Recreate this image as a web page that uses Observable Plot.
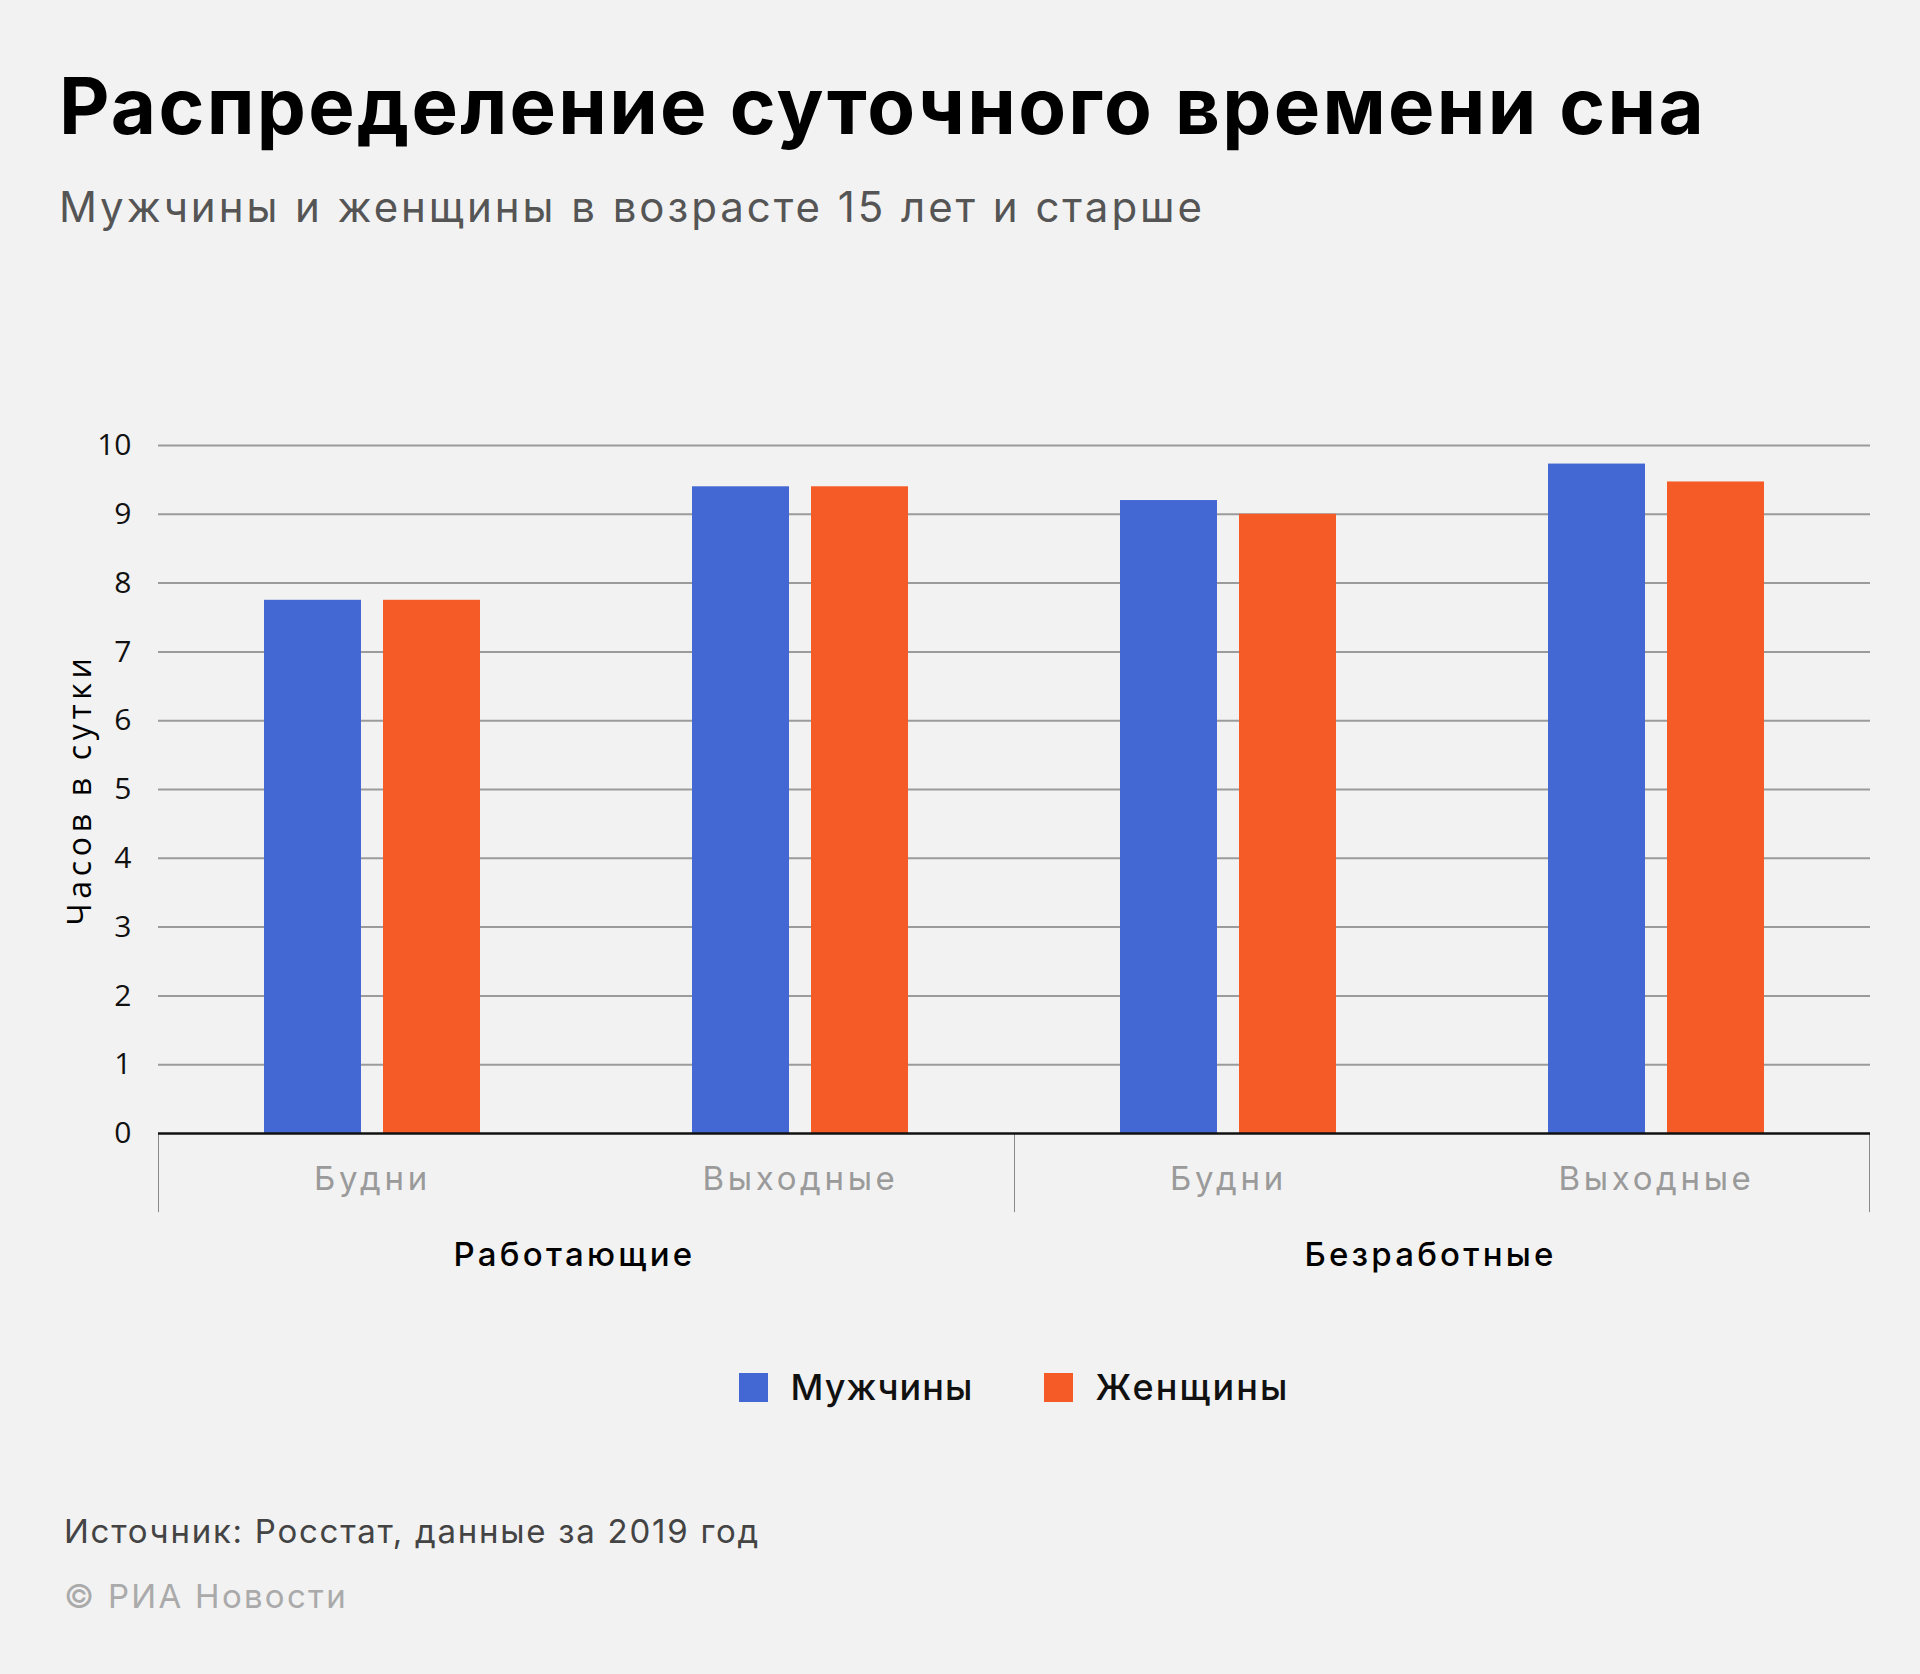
<!DOCTYPE html>
<html><head><meta charset="utf-8">
<script src="https://cdn.jsdelivr.net/npm/d3@7"></script>
<script src="https://cdn.jsdelivr.net/npm/@observablehq/plot@0.6"></script>
<style>
html,body{margin:0;padding:0;background:#f2f2f2;}
body{width:1920px;height:1674px;position:relative;overflow:hidden;font-family:Inter,"Noto Sans",sans-serif;}
.abs{position:absolute;white-space:nowrap;line-height:1;}
#title{left:59px;top:67px;font-size:78px;font-weight:700;color:#000;}
#subtitle{left:59px;top:186px;font-size:42px;font-weight:400;color:#555;}
#chart{position:absolute;left:0;top:400px;}
#legend{position:absolute;left:108px;width:1812px;top:1369px;height:36px;display:flex;justify-content:center;align-items:center;}
.item{display:flex;align-items:center;margin:0 35px;}
.sw{width:29px;height:29px;margin-right:23px;}
.lab{font-size:36px;font-weight:500;line-height:1;color:#111;white-space:nowrap;}
#source{left:64px;top:1515px;font-size:33px;color:#444;}
#copy{left:64px;top:1580px;font-size:33px;color:#aaa;}
</style></head>
<body>
<div id="title" class="abs">Распределение суточного времени сна</div>
<div id="subtitle" class="abs">Мужчины и женщины в возрасте 15 лет и старше</div>
<div id="chart"></div>
<div id="legend"></div>
<div id="source" class="abs">Источник: Росстат, данные за 2019 год</div>
<div id="copy" class="abs">© РИА Новости</div>
<script>
const groups = ["Работающие", "Безработные"];
const days = ["Будни", "Выходные"];
const sexes = ["Мужчины", "Женщины"];
const men = [7.75, 9.4, 9.2, 9.73];
const women = [7.75, 9.4, 9.0, 9.47];
const yTicks = [0, 1, 2, 3, 4, 5, 6, 7, 8, 9, 10];
const yLabel = "Часов в сутки";
const colors = ["#4368d3", "#f45b26"];

const cats = groups.flatMap(g => days.map(d => ({group: g, day: d, key: g + "|" + d})));
const rows = cats.flatMap((c, i) => [
  {...c, sex: sexes[0], value: men[i]},
  {...c, sex: sexes[1], value: women[i]}
]);
const groupLabels = groups.map(g => ({group: g, key: g + "|" + days[0]}));
const sepLeft = groups.map(g => ({key: g + "|" + days[0]}));
const sepRight = [{key: cats[cats.length - 1].key}];

const W = 1920, H = 883, ML = 157, MR = 49, MT = 45, MB = 150;
const facetW = (W - ML - MR) / cats.length;
const LF = "Inter, 'Noto Sans', sans-serif";

const chart = Plot.plot({
  width: W, height: H,
  marginLeft: ML, marginRight: MR, marginTop: MT, marginBottom: MB,
  style: {background: "transparent", fontFamily: "'Open Sans', sans-serif", fontSize: "30px", color: "#111", overflow: "visible"},
  fx: {domain: cats.map(c => c.key), padding: 0, axis: null, label: null},
  x: {domain: sexes, paddingInner: 0.1833, paddingOuter: 0.877, axis: null, label: null},
  y: {domain: [0, 10], ticks: yTicks, tickSize: 0, tickPadding: 27, label: null, tickFormat: d => String(d)},
  color: {domain: sexes, range: colors},
  marks: [
    Plot.ruleY(yTicks.filter(t => t > 0), {stroke: "#9b9b9b", strokeWidth: 2}),
    Plot.barY(rows, {fx: "key", x: "sex", y: "value", fill: "sex"}),
    Plot.barY(sepLeft, {fx: "key", y1: 0, y2: -1.15, fill: "#8a8a8a", insetRight: facetW - 1.5}),
    Plot.barY(sepRight, {fx: "key", y1: 0, y2: -1.15, fill: "#8a8a8a", insetLeft: facetW - 1.5}),
    Plot.ruleY([0], {stroke: "#111", strokeWidth: 2.5}),
    Plot.text(cats, {fx: "key", text: "day", frameAnchor: "bottom", textAnchor: "middle", dy: 46, fill: "#9a9a9a", fontSize: 33, fontFamily: LF, lineAnchor: "middle"}),
    Plot.text(groupLabels, {fx: "key", text: "group", frameAnchor: "bottom-right", textAnchor: "middle", dy: 122, dx: -12, fill: "#000", fontSize: 33, fontWeight: 500, fontFamily: LF, lineAnchor: "middle"}),
    Plot.text([{key: cats[0].key, label: yLabel}], {fx: "key", text: "label", frameAnchor: "left", textAnchor: "middle", dx: -78, rotate: -90, fill: "#000", fontSize: 32, lineAnchor: "middle"})
  ]
});
document.getElementById("chart").appendChild(chart);

const legend = document.getElementById("legend");
sexes.forEach((s, i) => {
  const it = document.createElement("div"); it.className = "item";
  const sw = document.createElement("div"); sw.className = "sw"; sw.style.background = colors[i];
  const lb = document.createElement("span"); lb.className = "lab"; lb.textContent = s;
  it.appendChild(sw); it.appendChild(lb); legend.appendChild(it);
});

function fit(el, target) {
  el.style.letterSpacing = "0px";
  const w = el.getBoundingClientRect().width;
  const n = el.textContent.length;
  el.style.letterSpacing = ((target - w) / n) + "px";
}
const svgTargets = {"Будни": 117, "Выходные": 196, "Работающие": 242, "Безработные": 252, "Часов в сутки": 272};
function fitSvg() {
  chart.querySelectorAll("text").forEach(t => {
    const target = svgTargets[t.textContent];
    if (target === undefined) return;
    t.style.letterSpacing = "0px";
    const w = t.getComputedTextLength();
    t.style.letterSpacing = ((target - w) / t.textContent.length) + "px";
  });
}
const doFit = () => {
  fit(document.getElementById("title"), 1647);
  fit(document.getElementById("subtitle"), 1146);
  fit(document.getElementById("source"), 696);
  fit(document.getElementById("copy"), 284);
  const labs = document.querySelectorAll(".lab");
  fit(labs[0], 183); fit(labs[1], 194);
  fitSvg();
};
doFit();
if (document.fonts && document.fonts.ready) document.fonts.ready.then(doFit);
</script>
</body></html>
